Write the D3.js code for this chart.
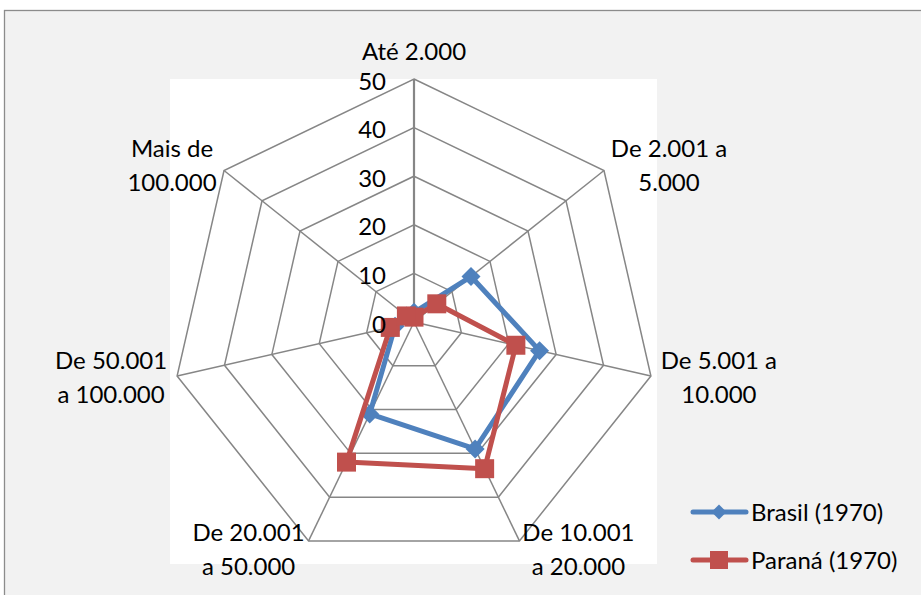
<!DOCTYPE html>
<html><head><meta charset="utf-8">
<script src="https://cdn.jsdelivr.net/npm/d3@7"></script>
<style>
body{margin:0;background:#fff}
svg{display:block}
text{font-family:Lato,"Open Sans",sans-serif;fill:#000}
</style>
</head><body>
<svg id="c" width="921" height="595"></svg>
<script>
// ---- data ----
const categories = ["Até 2.000","De 2.001 a 5.000","De 5.001 a 10.000","De 10.001 a 20.000","De 20.001 a 50.000","De 50.001 a 100.000","Mais de 100.000"];
const categoryLines = [["Até 2.000"],["De 2.001 a","5.000"],["De 5.001 a","10.000"],["De 10.001","a 20.000"],["De 20.001","a 50.000"],["De 50.001","a 100.000"],["Mais de","100.000"]];
const brasil = [2, 15, 26.5, 29, 21, 4, 2];
const parana = [1, 6, 21.5, 33.5, 32, 5, 2];
const ticks = [0, 10, 20, 30, 40, 50];
const seriesNames = ["Brasil (1970)", "Paraná (1970)"];

// ---- layout ----
const svg = d3.select("#c");
const W = 921, H = 595;
const cx = 414, cy = 322, R = 243;
const fontSize = 24;
const colors = ["#4F81BD", "#C0504D"];
const gridColor = "#868686";

svg.append("rect").attr("width", W).attr("height", H).attr("fill", "#fff");
svg.append("rect").attr("x", 4.5).attr("y", 10.5).attr("width", W).attr("height", H)
  .attr("fill", "#F2F2F2").attr("stroke", "#8c8c8c").attr("stroke-width", 1.3);
svg.append("rect").attr("x", 170).attr("y", 79).attr("width", 487).attr("height", 485).attr("fill", "#fff");

const r = d3.scaleLinear().domain([0, 50]).range([0, R]);
const angle = d3.scalePoint().domain(d3.range(categories.length)).range([0, 2 * Math.PI * (categories.length - 1) / categories.length]);
const pt = (i, v) => [cx + r(v) * Math.sin(angle(i)), cy - r(v) * Math.cos(angle(i))];

const g = svg.append("g");
// rings
ticks.filter(t => t > 0).forEach(t => {
  g.append("polygon")
    .attr("points", categories.map((c, i) => pt(i, t).join(",")).join(" "))
    .attr("fill", "none").attr("stroke", gridColor).attr("stroke-width", 1.5);
});
// spokes
categories.forEach((c, i) => {
  const [x, y] = pt(i, 50);
  g.append("line").attr("x1", cx).attr("y1", cy).attr("x2", x).attr("y2", y)
    .attr("stroke", gridColor).attr("stroke-width", i === 0 ? 2.2 : 1.5);
});
// category labels
const labelOffsets = [[0, -19], [65, -13.5], [68, -7], [59, 0], [-60, 0], [-66, -7], [-52, -13.5]];
categoryLines.forEach((lines, i) => {
  const [vx, vy] = pt(i, 50);
  const t = g.append("text").attr("text-anchor", "middle").attr("font-size", fontSize);
  lines.forEach((ln, j) => {
    t.append("tspan").attr("x", vx + labelOffsets[i][0]).attr("y", vy + labelOffsets[i][1] + j * 34).text(ln);
  });
});

// series
const lineGen = d3.line().curve(d3.curveLinearClosed);
const diamond = s => `M0,${-s}L${s},0L0,${s}L${-s},0Z`;
const square = s => `M${-s},${-s}H${s}V${s}H${-s}Z`;
const markers = [diamond(9.5), square(9.5)];
[brasil, parana].forEach((vals, si) => {
  const pts = vals.map((v, i) => pt(i, v));
  svg.append("path").attr("d", lineGen(pts)).attr("fill", "none")
    .attr("stroke", colors[si]).attr("stroke-width", 5).attr("stroke-linejoin", "round");
  pts.forEach(p => {
    svg.append("path").attr("d", markers[si]).attr("transform", `translate(${p[0]},${p[1]})`)
      .attr("fill", colors[si]);
  });
});

// tick labels (drawn above series)
ticks.forEach(t => {
  svg.append("text").attr("x", cx - 28).attr("y", cy - r(t) + 10.5)
    .attr("text-anchor", "end").attr("font-size", fontSize).text(t);
});

// legend
const legY = [512, 560];
seriesNames.forEach((n, si) => {
  const y = legY[si];
  svg.append("line").attr("x1", 693).attr("x2", 746).attr("y1", y).attr("y2", y)
    .attr("stroke", colors[si]).attr("stroke-width", 5).attr("stroke-linecap", "round");
  svg.append("path").attr("d", si === 0 ? diamond(7.5) : square(9)).attr("transform", `translate(719,${y})`)
    .attr("fill", colors[si]);
  svg.append("text").attr("x", 751).attr("y", y + 9).attr("font-size", fontSize).text(n);
});
</script>
</body></html>
